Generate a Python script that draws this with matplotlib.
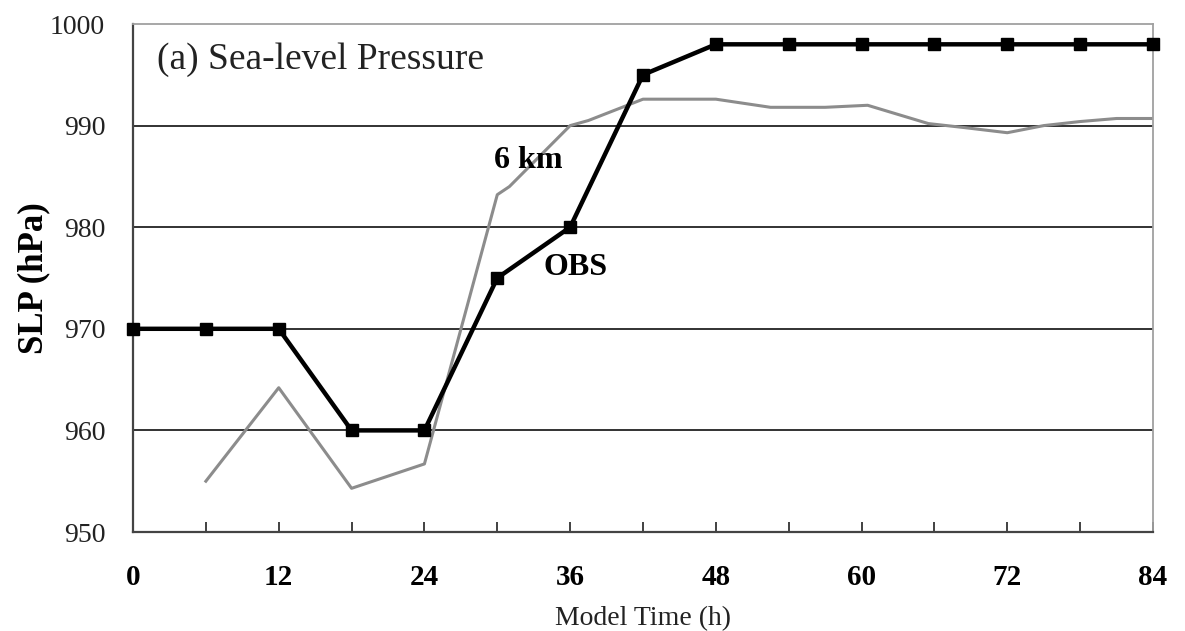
import matplotlib
matplotlib.use("Agg")
import matplotlib.pyplot as plt

# Data
obs_hours = [0, 6, 12, 18, 24, 30, 36, 42, 48, 54, 60, 66, 72, 78, 84]
obs_slp = [970, 970, 970, 960, 960, 975, 980, 995, 998, 998, 998, 998, 998, 998, 998]

km6_hours = [6, 12, 18, 24, 30, 31, 36, 37.5, 42, 48, 52.5, 57, 60.5, 65.5, 68.5, 72, 75, 78, 81, 84]
km6_slp = [955.0, 964.2, 954.3, 956.7, 983.2, 984.0, 990.0, 990.5, 992.6, 992.6, 991.8, 991.8, 992.0,
           990.2, 989.8, 989.3, 990.0, 990.4, 990.7, 990.7]

xtick_pos = list(range(0, 85, 6))
xtick_labels = [str(h) if h % 12 == 0 else "" for h in xtick_pos]
ytick_pos = [950, 960, 970, 980, 990, 1000]

plt.rcParams['font.family'] = ['Liberation Serif', 'DejaVu Serif']

fig = plt.figure(figsize=(11.85, 6.31), dpi=100)
ax = fig.add_axes([133/1185, 1 - 532/631, (1153-133)/1185, (532-24)/631])

for y in [960, 970, 980, 990]:
    ax.axhline(y, color='#222222', lw=1.3, zorder=1)

ax.plot(km6_hours, km6_slp, color='#8c8c8c', lw=2.2, zorder=2)
ax.plot(obs_hours, obs_slp, color='black', lw=3.2, marker='s', markersize=8.5, zorder=3, clip_on=False)

ax.set_xlim(0, 84)
ax.set_ylim(950, 1000)
ax.set_xticks(xtick_pos)
ax.set_xticklabels(xtick_labels, fontsize=21, fontweight='bold')
ax.set_yticks(ytick_pos)
ax.set_yticklabels([str(v) for v in ytick_pos], fontsize=20, color='#222222')
ax.tick_params(axis='x', direction='in', length=7, width=1.3, color='#333333', pad=23)
ax.tick_params(axis='y', length=0, pad=20)

for s in ['left', 'bottom']:
    ax.spines[s].set_color('#444444')
    ax.spines[s].set_linewidth(1.6)
for s in ['top', 'right']:
    ax.spines[s].set_color('#a0a0a0')
    ax.spines[s].set_linewidth(1.3)

ax.set_ylabel('SLP (hPa)', fontsize=25, fontweight='bold', labelpad=0)
ax.set_xlabel('Model Time (h)', fontsize=20, labelpad=11, color='#222222')

ax.text(0.024, 0.93, '(a) Sea-level Pressure', transform=ax.transAxes, fontsize=27,
        ha='left', va='center', color='#222222')
ax.text(29.7, 986.6, '6 km', fontsize=23, fontweight='bold', ha='left', va='center')
ax.text(33.8, 976.0, 'OBS', fontsize=23, fontweight='bold', ha='left', va='center')

fig.savefig('out.png', dpi=100, facecolor='white')
